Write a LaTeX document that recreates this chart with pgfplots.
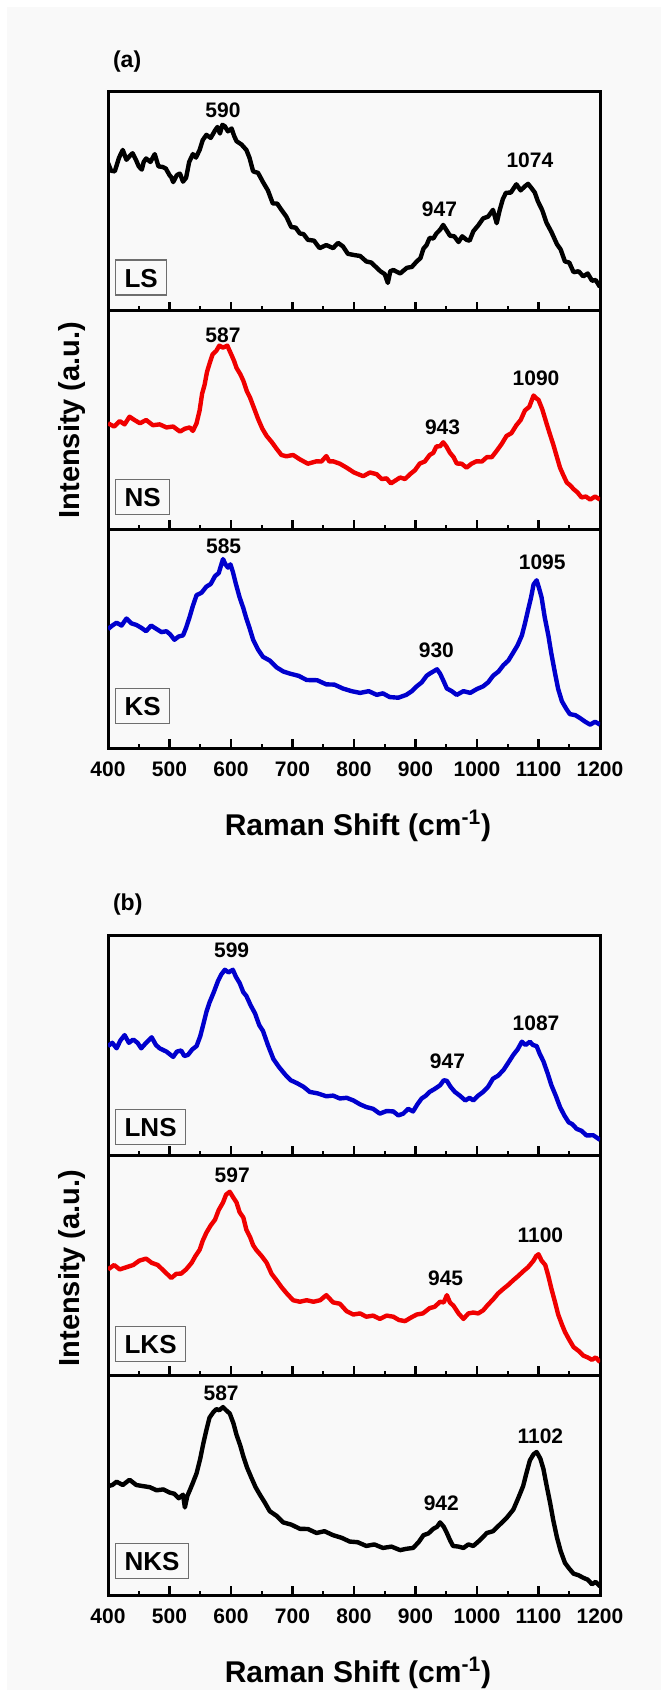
\documentclass[border=0pt]{standalone}
\usepackage{fontspec}
\setmainfont{Liberation Sans}
\usepackage{pgfplots}
\pgfplotsset{compat=1.18}

\definecolor{bggray}{RGB}{249,249,249}
\definecolor{boxgray}{RGB}{110,110,110}
\definecolor{ramred}{RGB}{240,0,0}
\definecolor{ramblue}{RGB}{0,0,205}

\pgfplotsset{
  raman/.style={
    scale only axis,
    width=246pt, height=109.33pt,
    anchor=north west,
    xmin=400, xmax=1200, ymin=0, ymax=100,
    xtick={400,500,...,1200},
    minor x tick num=1,
    ytick=\empty,
    xtick pos=bottom, tick align=inside,
    major tick length=4.5pt, minor tick length=2.25pt,
    every tick/.style={black, line width=1.2pt},
    axis line style={line width=1.5pt},
    axis background/.style={fill=bggray},
    xticklabels={},
    /pgf/number format/1000 sep={},
    /pgf/number format/assume math mode=true,
    ticklabel style={font=\fontsize{10.5}{12}\selectfont\bfseries},
    xticklabel style={yshift=-3.5pt},
    every axis plot/.append style={line width=2.2pt, line join=round},
  },
  lastrow/.style={
    xticklabels={400,500,600,700,800,900,1000,1100,1200},
    xlabel={Raman Shift (cm\textsuperscript{-1})},
    xlabel style={at={(rel axis cs:0.5,0)}, anchor=center, yshift=-39pt, xshift=2pt,
      font=\fontsize{15}{17}\selectfont\bfseries},
  },
}
\newcommand{\pk}[3]{\node[font=\fontsize{10.5}{12}\selectfont\bfseries] at (axis cs:#1,#2) {#3};}
\newcommand{\sample}[2]{\node[draw=boxgray, line width=0.6pt, fill=bggray, anchor=south west,
  inner xsep=4.5pt, inner ysep=4pt, text height=9.5pt, text depth=0pt,
  font=\fontsize{13}{14}\selectfont\bfseries, xshift=3.5pt, yshift=#2] at (rel axis cs:0,0) {#1};}

\begin{document}
\begin{tikzpicture}
\useasboundingbox (0,0) rectangle (330.5pt,-845pt);
\fill[white] (0,0) rectangle (330.5pt,-845pt);
\fill[bggray] (3.5pt,-3.5pt) rectangle (330.5pt,-845pt);

% ---------- panel (a)
\node[anchor=west, font=\fontsize{11.5}{13}\selectfont\bfseries] at (53pt,-31pt) {(a)};

\begin{axis}[raman, at={(54pt,-46pt)}]
\addplot[black] coordinates {
(400,67.6)(405,64)(411,63.7)(418,70)(424,73.5)(430,69)(435,70.6)(440,72)(446,68.6)(450,66)(455,64.5)
(458,68)(462,69.6)(469,68)(476,71.6)(482,66)(489,65.7)(494,65)(500,62)(503,61)(506,58.8)(512,62)
(517,62.7)(522,59)(527,60.8)(532,68)(538,71.6)(543,70)(549,73.5)(554,78)(560,80.4)(567,79)(574,82.4)
(578,84)(582,81)(586,85)(590,84.3)(595,82)(601,83.3)(605,80)(609,77.5)(617,76)(625,73.5)(630,70)
(636,63.7)(644,63)(652,58.8)(660,55)(668,49.0)(675,49)(682,46.1)(690,43)(698,38.2)(705,38)(712,35.3)
(718,35)(725,32.4)(735,32)(744,28.6)(755,30)(766,28.6)(774,31)(782,29.4)(790,26)(799,25.5)(810,25)
(820,22.5)(828,22)(837,19.6)(843,18)(850,16.7)(855,12.7)(859,18)(864,18.6)(875,17)(886,19.6)(894,20)
(902,22.5)(908,24)(913,28.4)(918,30)(923,33.3)(929,33)(934,35.3)(940,37)(945,39.2)(950,37)(956,34.3)
(963,34)(970,31.4)(976,34)(983,32.4)(988,32)(994,36.3)(1002,39)(1010,42.2)(1018,43)(1026,46.1)
(1032,40)(1037,46.1)(1042,51)(1047,53.9)(1055,54)(1064,57.8)(1071,55)(1078,56.9)(1083,58)(1089,55.9)
(1094,54)(1099,50.0)(1106,46)(1113,40.2)(1121,36)(1130,30.4)(1136,28)(1143,22.5)(1150,22)(1157,17.6)
(1165,18)(1173,15.7)(1180,17)(1187,13.7)(1193,14)(1200,10.8)
};
\pk{587}{91.6}{590}
\pk{939}{46.5}{947}
\pk{1086}{68.6}{1074}
\sample{LS}{7.5pt}
\end{axis}

\begin{axis}[raman, at={(54pt,-155.33pt)}]
\addplot[ramred] coordinates {
(400,48.5)(410,47)(419,49.5)(427,48)(435,51.5)(443,50)(452,48.5)(462,50)(473,47.6)(484,48)(495,46.6)
(506,47)(517,44.7)(525,46)(533,46.6)(538,45)(544,48.5)(549,54.4)(553,62)(557,66.0)(561,72)(565,75.7)
(570,80)(576,81.6)(581,84)(587,83.1)(594,84)(601,79.6)(605,77)(609,73.8)(615,71)(620,68.0)(626,63)
(631,60.2)(638,55)(644,50.5)(651,46)(658,42.7)(666,40)(674,36.9)(682,34)(690,33.4)(701,34)(712,32.0)
(725,30)(739,31.1)(747,31)(755,33.5)(760,31)(766,31.1)(777,30)(788,28.2)(800,26)(815,24.3)(826,26)
(837,25.2)(845,23)(853,23.3)(860,21)(875,23.7)(883,23)(891,25.2)(899,27)(907,30.1)(915,31)(923,34.0)
(929,35)(934,37.9)(940,38)(945,39.8)(950,38)(956,35.0)(962,33)(967,30.1)(975,30)(983,28.2)(991,30)
(999,31.1)(1008,31)(1016,33.0)(1024,33)(1032,35.9)(1040,39)(1048,42.7)(1056,44)(1064,47.6)(1071,50)
(1078,54.4)(1085,56)(1092,61.2)(1096,60)(1100,59.2)(1106,55)(1113,48.5)(1118,44)(1124,38.8)(1130,33)
(1135,28.2)(1140,25)(1146,21.4)(1152,20)(1157,18.4)(1163,17)(1170,14.6)(1177,15)(1184,13.6)(1192,15)
(1200,13.6)
};
\pk{587}{88.7}{587}
\pk{944}{46.6}{943}
\pk{1096}{69.3}{1090}
\sample{NS}{7pt}
\end{axis}

\begin{axis}[raman, lastrow, at={(54pt,-264.67pt)}]
\addplot[ramblue] coordinates {
(400,54.4)(407,56)(414,57.3)(422,56)(430,59.2)(438,57)(446,56.3)(454,55)(462,53.4)(470,56)(479,54.4)
(487,53)(495,53.4)(501,52)(508,49.5)(515,51)(522,51.5)(527,55)(533,60.2)(538,65)(544,69.9)(552,71)
(560,73.8)(567,75)(574,78.6)(580,80)(587,86.4)(591,84)(595,82.5)(599,84)(603,80.6)(608,75)(614,68.9)
(620,64)(625,59.2)(630,55)(636,49.5)(644,45)(652,41.7)(663,40)(674,36.9)(685,35)(696,34.0)(710,33)
(723,31.1)(740,31)(755,29.1)(768,29)(782,27.2)(796,26)(810,25.2)(824,26)(837,24.3)(847,25)(858,23.3)
(872,23)(885,24.3)(894,26)(902,28.2)(910,30)(918,33.0)(923,34)(929,35.0)(935,36)(940,34.0)(945,31)
(951,27.2)(959,26)(967,24.3)(978,26)(989,25.2)(1000,27)(1010,28.2)(1018,30)(1026,33.0)(1035,35)
(1043,37.9)(1051,40)(1059,43.7)(1066,47)(1073,51.5)(1078,57)(1083,63.1)(1088,69)(1092,74.8)(1097,76.7)
(1101,73)(1105,68.9)(1110,60)(1116,51.5)(1121,43)(1127,34.0)(1132,27)(1138,21.4)(1145,18)(1151,15.5)
(1160,15)(1168,13.6)(1176,12)(1184,10.7)(1192,12)(1200,10.7)
};
\pk{588}{92.2}{585}
\pk{934}{44.7}{930}
\pk{1106}{85.0}{1095}
\sample{KS}{12pt}
\end{axis}

\node[rotate=90, font=\fontsize{14.5}{16}\selectfont\bfseries] at (36pt,-210pt) {Intensity (a.u.)};

% ---------- panel (b)
\node[anchor=west, font=\fontsize{11.5}{13}\selectfont\bfseries] at (53pt,-452.5pt) {(b)};

\begin{axis}[raman, height=110pt, at={(54pt,-467.5pt)}]
\addplot[ramblue] coordinates {
(400,49.5)(407,51)(414,48.5)(420,52)(427,54.5)(434,51)(441,52.5)(448,51)(454,48.5)(462,51)(471,53.5)
(478,50)(484,48.5)(495,47)(506,44.6)(512,47)(519,47.5)(524,45)(530,45.5)(537,48)(544,49.5)(550,54)
(555,59.4)(560,65)(565,69.3)(572,74)(579,79.2)(584,82)(590,84.2)(596,83)(603,84.2)(608,81)(614,78.2)
(620,74)(625,72.3)(632,68)(639,64.4)(646,59)(652,56.4)(660,50)(669,43.6)(678,40)(688,36.6)(697,34)
(707,32.7)(718,31)(728,28.7)(741,28)(755,26.7)(766,27)(777,25.7)(788,26)(799,24.8)(810,23)(820,21.8)
(831,21)(842,18.8)(853,20)(864,19.8)(872,18)(880,18.8)(888,21)(896,19.8)(903,23)(910,25.7)(917,27)
(923,28.7)(931,30)(940,31.7)(946,34)(951,33.7)(957,31)(964,28.7)(972,27)(981,24.8)(988,26)(994,24.8)
(1002,27)(1010,28.7)(1018,31)(1026,34.7)(1034,36)(1043,38.6)(1051,42)(1059,45.5)(1066,48)(1073,51.5)
(1079,50)(1086,51.5)(1091,50)(1097,49.5)(1102,46)(1108,42.6)(1115,37)(1121,31.7)(1128,27)(1135,21.8)
(1142,18)(1149,14.9)(1155,14)(1162,11.9)(1170,11)(1178,8.9)(1189,9)(1200,6.9)
};
\pk{601}{93.1}{599}
\pk{952}{42.6}{947}
\pk{1096}{59.8}{1087}
\sample{LNS}{5pt}
\end{axis}

\begin{axis}[raman, height=110pt, at={(54pt,-577.5pt)}]
\addplot[ramred] coordinates {
(400,48.0)(410,50)(419,48.0)(430,49)(441,50.0)(451,52)(462,52.9)(471,51)(481,50.0)(492,47)(503,44.1)
(511,46)(519,46.1)(527,48)(536,51.0)(542,54)(549,56.9)(554,61)(560,64.7)(567,68)(574,70.6)(580,75)
(587,78.4)(592,82)(598,83.3)(603,81)(609,78.4)(614,74)(620,71.6)(625,66)(631,62.7)(636,59)(641,56.9)
(650,54)(658,51.0)(666,46)(674,43.1)(682,40)(690,37.3)(701,34)(712,33.3)(723,34)(734,33.3)(745,34)
(755,36.3)(766,33)(777,32.4)(788,29)(799,27.5)(810,28)(820,26.5)(831,27)(842,25.5)(853,27)(864,26.5)
(873,25)(883,24.5)(892,26)(902,27.5)(912,28)(923,30.4)(931,31)(940,33.3)(946,33)(951,36.3)(956,33)
(962,31.4)(970,28)(978,25.5)(986,28)(994,28.4)(1002,28)(1010,29.4)(1018,32)(1026,34.3)(1034,37)
(1043,39.2)(1051,41)(1059,43.1)(1067,45)(1075,47.1)(1083,49)(1092,52.0)(1096,54)(1100,54.9)(1105,52)
(1111,50.0)(1116,45)(1121,39.2)(1127,33)(1132,27.5)(1138,23)(1143,19.6)(1150,16)(1157,12.7)(1165,11)
(1173,8.8)(1180,8)(1187,6.9)(1193,8)(1200,5.9)
};
\pk{602}{90.6}{597}
\pk{949}{44.1}{945}
\pk{1103}{63.5}{1100}
\sample{LKS}{6.5pt}
\end{axis}

\begin{axis}[raman, lastrow, height=110pt, at={(54pt,-687.5pt)}]
\addplot[black] coordinates {
(400,49.5)(407,50)(414,51.5)(424,50)(435,52.4)(446,50)(457,49.5)(468,49)(479,47.6)(490,48)(500,46.6)
(508,46)(515,44)(522,45.6)(525,39.8)(529,45)(533,47.6)(538,51)(544,55.3)(550,62)(555,68.9)(560,75)
(565,80.6)(571,83)(576,84.5)(581,84)(587,85.4)(592,84)(598,82.5)(604,78)(609,72.8)(615,68)(620,63.1)
(626,58)(633,53.4)(640,49)(647,45.6)(655,42)(663,38.1)(674,36)(685,33.0)(698,32)(712,30.1)(725,30)
(739,28.2)(752,29)(766,27.2)(780,26)(793,24.3)(806,24)(820,22.3)(833,23)(847,21.4)(861,22)(875,20.4)
(885,21)(896,21.4)(905,24)(913,27.2)(921,28)(929,30.1)(935,31)(940,33.0)(946,31)(951,28.2)(956,25)
(961,22.3)(970,22)(978,21.4)(986,23)(994,22.3)(1005,25)(1016,28.2)(1026,29)(1037,32.0)(1048,35)
(1059,38.8)(1067,44)(1075,49.5)(1080,55)(1086,61.2)(1092,64)(1097,65.0)(1103,62)(1108,57.3)(1113,50)
(1119,41.7)(1124,34)(1130,26.2)(1136,20)(1143,14.6)(1150,12)(1157,9.7)(1165,9)(1173,7.8)(1180,7)
(1187,4.9)(1193,6)(1200,3.9)
};
\pk{584}{91.8}{587}
\pk{942}{41.7}{942}
\pk{1103}{72.2}{1102}
\sample{NKS}{8pt}
\end{axis}

\node[rotate=90, font=\fontsize{14.5}{16}\selectfont\bfseries] at (36pt,-634pt) {Intensity (a.u.)};
\end{tikzpicture}
\end{document}
